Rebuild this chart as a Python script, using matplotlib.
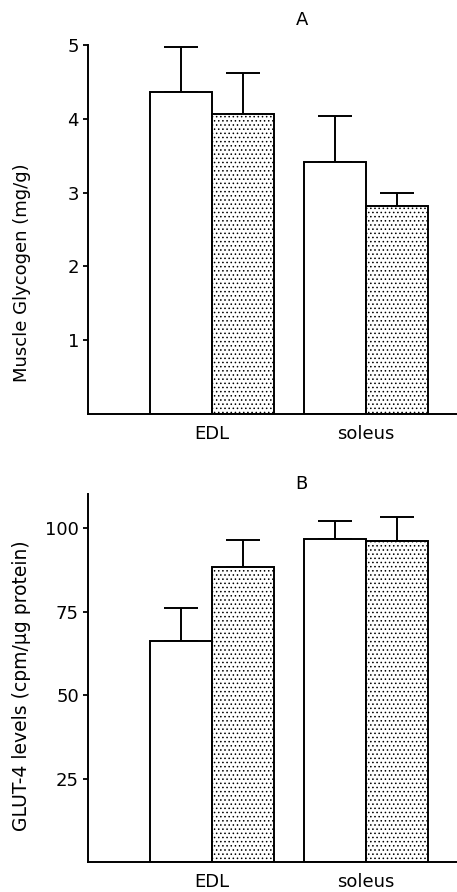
import matplotlib
matplotlib.use("Agg")
import matplotlib.pyplot as plt
import numpy as np

plt.rcParams['font.family'] = ['DejaVu Sans']
plt.rcParams['hatch.linewidth'] = 0.6

categories = ["EDL", "soleus"]
# Panel A: muscle glycogen (mg/g)
glyc_white = [4.36, 3.41]
glyc_white_err = [0.61, 0.63]
glyc_dot = [4.07, 2.82]
glyc_dot_err = [0.55, 0.17]
# Panel B: GLUT-4 levels
glut_white = [66.1, 96.8]
glut_white_err = [10.1, 5.5]
glut_dot = [88.3, 96.3]
glut_dot_err = [8.3, 7.1]

W, H = 457, 892
fig = plt.figure(figsize=(W/100, H/100), dpi=100)

def make_axes(left_px, top_px, bottom_px):
    return fig.add_axes([left_px/W, 1-bottom_px/H, 1-left_px/W, (bottom_px-top_px)/H])

def draw(ax, white, white_err, dot, dot_err, ylim, yticks):
    x = np.arange(len(categories))
    bw = 0.40
    ax.bar(x - bw/2, white, bw, color='white', edgecolor='black', linewidth=1.4, zorder=2)
    ax.bar(x + bw/2, dot, bw, color='white', edgecolor='black', linewidth=1.4, hatch='....', zorder=2)
    ax.errorbar(x - bw/2, white, yerr=[np.zeros(len(white)), white_err], fmt='none',
                ecolor='black', elinewidth=1.4, capsize=12.5, capthick=1.4, zorder=1)
    ax.errorbar(x + bw/2, dot, yerr=[np.zeros(len(dot)), dot_err], fmt='none',
                ecolor='black', elinewidth=1.4, capsize=12.5, capthick=1.4, zorder=1)
    ax.set_xlim(-0.805, 1.591)
    ax.set_ylim(*ylim)
    ax.set_yticks(yticks)
    ax.set_xticks(x)
    ax.set_xticklabels(categories, fontsize=13)
    ax.tick_params(axis='x', length=0, pad=8)
    ax.tick_params(axis='y', direction='out', length=3.5, width=1.3, labelsize=13, pad=3)
    for s in ['top', 'right']:
        ax.spines[s].set_visible(False)
    for s in ['left', 'bottom']:
        ax.spines[s].set_linewidth(1.4)
    ax.set_facecolor('none')

axA = make_axes(88, 45, 414)
draw(axA, glyc_white, glyc_white_err, glyc_dot, glyc_dot_err, (0, 5), [1, 2, 3, 4, 5])
axB = make_axes(88, 494, 862)
draw(axB, glut_white, glut_white_err, glut_dot, glut_dot_err, (0, 110.3), [25, 50, 75, 100])

fig.text(302/W, 1-20/H, "A", ha='center', va='center', fontsize=13)
fig.text(301/W, 1-484/H, "B", ha='center', va='center', fontsize=13)
fig.text(22/W, 1-273/H, "Muscle Glycogen (mg/g)", rotation=90, ha='center', va='center', fontsize=13)
fig.text(22/W, 1-686/H, "GLUT-4 levels (cpm/\u00b5g protein)", rotation=90, ha='center', va='center', fontsize=13.5)

fig.savefig("out.png", dpi=100)
